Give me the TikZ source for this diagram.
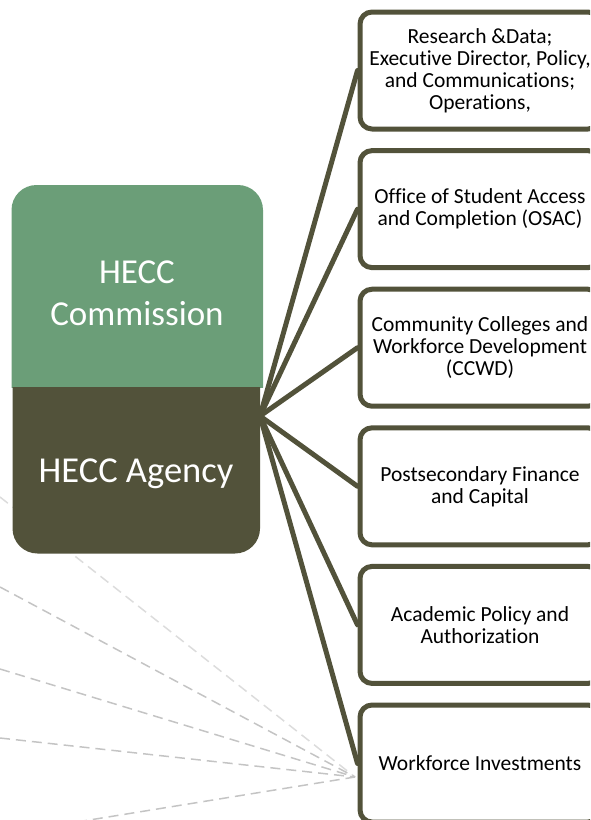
\documentclass[tikz,border=0pt]{standalone}
\usepackage{fontspec}
\setmainfont[Ligatures={NoCommon}]{Carlito}
\definecolor{heccgreen}{HTML}{6B9E78}
\definecolor{heccolive}{HTML}{52523A}
\definecolor{dashgrey}{HTML}{C4C4C4}
\definecolor{dashlight}{HTML}{DCDCDC}

\begin{document}
\begin{tikzpicture}[x=1pt, y=-1pt, line cap=round, line join=round,
    unitbox/.style={draw=heccolive, line width=5pt, rounded corners=12pt, fill=white,
      minimum width=240pt, minimum height=117pt, inner sep=0pt, anchor=north west,
      align=center, font=\fontsize{21.5}{22}\selectfont},
    spoke/.style={draw=heccolive, line width=5pt},
    ghost/.style={line width=1.5pt, dash pattern=on 10pt off 6pt, line cap=butt}]
  \useasboundingbox (0,0) rectangle (590,820);
  \clip (0,0) rectangle (590,820);

  % grey dashed leads into the last unit
  \coordinate (focus) at (355,777);
  \coordinate (g1) at (0,497);
  \coordinate (g2) at (0,587);
  \coordinate (g3) at (0,669);
  \coordinate (g4) at (0,738);
  \coordinate (g5) at (77,822);
  \draw[ghost, dashlight] (g1) -- (focus);
  \foreach \g in {g2,g3,g4,g5}
    \draw[ghost, dashgrey] (\g) -- (focus);

  % commission / agency block
  \begin{scope}
    \clip (0,185) rectangle (263,387);
    \fill[heccgreen, rounded corners=25pt] (11.5,185) rectangle (263,440);
  \end{scope}
  \begin{scope}
    \clip (0,387) rectangle (260,560);
    \fill[heccolive, rounded corners=25pt] (12.5,330) rectangle (260,553.5);
  \end{scope}
  \node[text=white, align=center, font=\fontsize{35}{42}\selectfont] (commission) at (137,293) {HECC\\Commission};
  \node[text=white, font=\fontsize{36.5}{42}\selectfont] (agency) at (136,474) {HECC Agency};

  \coordinate (hub) at (260,416);

  % units
  \node[unitbox] (b1) at (357.5,9.5) {Research \&Data;\\Executive Director, Policy,\\and Communications;\\Operations,};
  \node[unitbox] (b2) at (357.5,148.1) {Office of Student Access\\and Completion (OSAC)};
  \node[unitbox] (b3) at (357.5,286.7) {Community Colleges and\\Workforce Development\\(CCWD)};
  \node[unitbox] (b4) at (357.5,425.3) {Postsecondary Finance\\and Capital};
  \node[unitbox] (b5) at (357.5,563.9) {Academic Policy and\\Authorization};
  \node[unitbox] (b6) at (357.5,702.5) {Workforce Investments};

  \foreach \b in {b1,b2,b3,b4,b5,b6}
    \draw[spoke] (hub) -- (\b.west);
\end{tikzpicture}
\end{document}
